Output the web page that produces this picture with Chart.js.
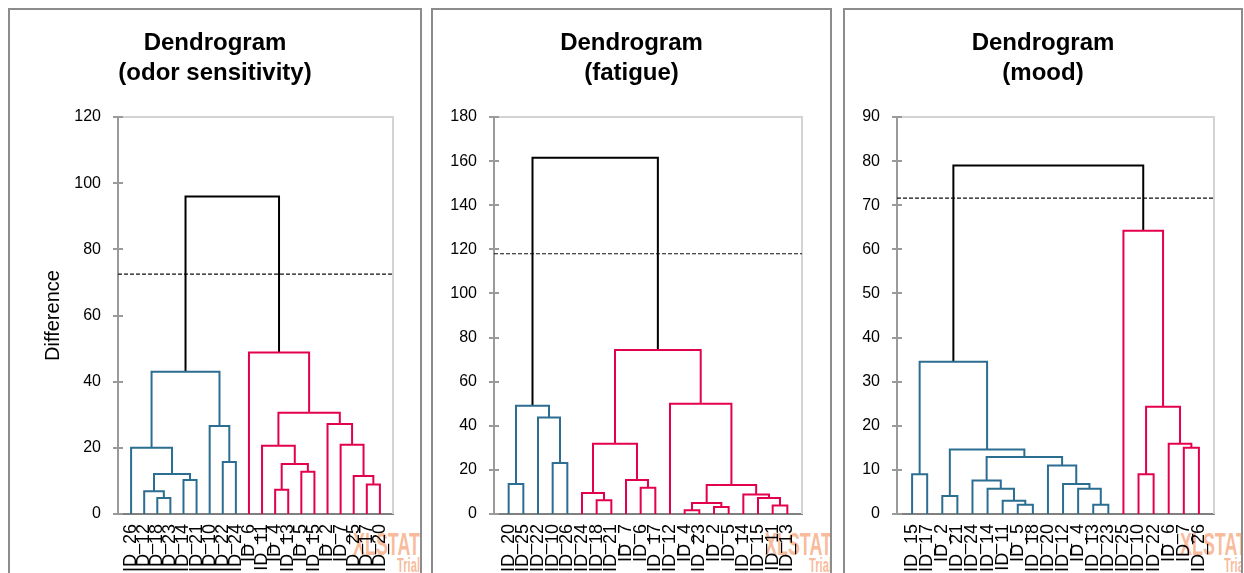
<!DOCTYPE html>
<html>
<head>
<meta charset="utf-8">
<title>Dendrograms</title>
<script src="https://cdn.jsdelivr.net/npm/chart.js@4.4.1/dist/chart.umd.min.js"></script>
<style>
  html, body { margin: 0; padding: 0; background: #fff; overflow: hidden; width: 1244px; height: 573px; }
  .panel { position: absolute; top: 8px; height: 640px; border: 2px solid #8c8c8c; box-sizing: border-box; overflow: hidden; background: #fff; }
  .panel canvas { position: absolute; left: 0; top: 0; z-index: 1; }
  .wm { position: absolute; z-index: 0; font-family: 'Liberation Sans', Arial, sans-serif; font-weight: bold;
        color: rgba(242, 120, 55, 0.5); transform-origin: 0 0; white-space: nowrap; }
  .wm.big { font-size: 32px; line-height: 32px; transform: scaleX(0.56); }
  .wm.small { font-size: 20px; line-height: 20px; transform: scaleX(0.56); }
</style>
</head>
<body>
<div class="panel" style="left:8px;width:414px;">
  <div class="wm big" style="left:343px;top:518px;">XLSTAT</div>
  <div class="wm small" style="left:387px;top:545px;">Trial</div>
  <canvas id="odor" width="410" height="630"></canvas>
</div>
<div class="panel" style="left:431px;width:401px;">
  <div class="wm big" style="left:332px;top:518px;">XLSTAT</div>
  <div class="wm small" style="left:376px;top:545px;">Trial</div>
  <canvas id="fatigue" width="397" height="630"></canvas>
</div>
<div class="panel" style="left:843px;width:400px;">
  <div class="wm big" style="left:335px;top:518px;">XLSTAT</div>
  <div class="wm small" style="left:379px;top:545px;">Trial</div>
  <canvas id="mood" width="396" height="630"></canvas>
</div>
<script>
// Leaf order along the x axis and agglomeration steps for each dendrogram.
// A merge is [childA, childB, height]; an index below the leaf count is a leaf
// (by position), index leafCount + k refers to merge k.
const odorLeaves = ['ID_26','ID_12','ID_18','ID_23','ID_14','ID_21','ID_10','ID_22','ID_24','ID_6',
                    'ID_11','ID_4','ID_13','ID_5','ID_15','ID_2','ID_7','ID_25','ID_17','ID_20'];
const odorMerges = [
  [2, 3, 4.8], [1, 20, 6.9], [11, 12, 7.3], [18, 19, 8.9], [4, 5, 10.3],
  [17, 23, 11.5], [21, 24, 12.1], [13, 14, 12.8], [22, 27, 15.1], [7, 8, 15.7],
  [0, 26, 20.0], [10, 28, 20.6], [16, 25, 20.9], [6, 29, 26.6], [15, 32, 27.2],
  [31, 34, 30.6], [30, 33, 43.0], [9, 35, 48.8], [36, 37, 96.0]
];
const odorCut = 72.5;
const odorYMax = 120, odorYStep = 20;

const fatigueLeaves = ['ID_20','ID_25','ID_22','ID_10','ID_26','ID_24','ID_18','ID_21','ID_7','ID_6',
                       'ID_17','ID_12','ID_4','ID_23','ID_2','ID_5','ID_14','ID_15','ID_11','ID_13'];
const fatigueMerges = [
  [12, 13, 1.7], [14, 15, 3.2], [18, 19, 3.8], [20, 21, 5.0], [6, 7, 6.2],
  [17, 22, 7.3], [16, 25, 8.8], [5, 24, 9.5], [9, 10, 11.9], [23, 26, 13.1],
  [0, 1, 13.6], [8, 28, 15.4], [3, 4, 23.1], [27, 31, 31.9], [2, 32, 43.7],
  [30, 34, 49.1], [11, 29, 50.0], [33, 36, 74.4], [35, 37, 161.5]
];
const fatigueCut = 118;
const fatigueYMax = 180, fatigueYStep = 20;

const moodLeaves = ['ID_15','ID_17','ID_2','ID_21','ID_24','ID_14','ID_11','ID_5','ID_18','ID_20',
                    'ID_12','ID_4','ID_13','ID_23','ID_25','ID_10','ID_22','ID_6','ID_7','ID_26'];
const moodMerges = [
  [7, 8, 2.1], [12, 13, 2.1], [6, 20, 3.0], [2, 3, 4.1], [5, 22, 5.7],
  [11, 21, 5.7], [10, 25, 6.8], [4, 24, 7.6], [0, 1, 9.0], [15, 16, 9.0],
  [9, 26, 11.0], [27, 30, 12.9], [23, 31, 14.6], [18, 19, 15.0], [17, 33, 15.9],
  [29, 34, 24.3], [28, 32, 34.5], [14, 35, 64.2], [36, 37, 79.0]
];
const moodCut = 71.6;
const moodYMax = 90, moodYStep = 10;

const BLUE = '#2c6e91';
const RED = '#e3004f';
const INK = '#000000';
const FONT = "'Liberation Sans', Arial, sans-serif";

// Turn leaves + merges into one "U" shaped line per merge, plus the cut line.
function dendrogramDatasets(leaves, merges, cut) {
  const n = leaves.length;
  const xPos = leaves.map((_, i) => i + 1);
  const hPos = leaves.map(() => 0);
  merges.forEach(([a, b, h]) => { xPos.push((xPos[a] + xPos[b]) / 2); hPos.push(h); });

  const root = n + merges.length - 1;
  const colour = [];
  const paint = (id, c) => {
    colour[id] = c;
    if (id >= n) { paint(merges[id - n][0], c); paint(merges[id - n][1], c); }
  };
  paint(merges[root - n][0], BLUE);
  paint(merges[root - n][1], RED);
  colour[root] = INK;

  const sets = merges.map(([a, b, h], k) => ({
    data: [
      { x: xPos[a], y: hPos[a] }, { x: xPos[a], y: h },
      { x: xPos[b], y: h }, { x: xPos[b], y: hPos[b] }
    ],
    borderColor: colour[n + k],
    borderWidth: 2,
    showLine: true,
    tension: 0,
    pointRadius: 0,
    pointHoverRadius: 0,
    borderJoinStyle: 'miter',
    borderCapStyle: 'butt',
    fill: false
  }));
  sets.push({
    data: [{ x: 0, y: cut }, { x: n + 1, y: cut }],
    borderColor: '#111',
    borderWidth: 1.2,
    borderDash: [4, 2],
    showLine: true,
    pointRadius: 0,
    pointHoverRadius: 0,
    fill: false
  });
  return sets;
}

// Light frame on the top/right of the plot area and tick marks crossing the y axis.
const axisDecor = {
  id: 'axisDecor',
  beforeDatasetsDraw(chart) {
    const { ctx, chartArea: a, scales: { y } } = chart;
    ctx.save();
    ctx.strokeStyle = '#d3d3d3';
    ctx.lineWidth = 2;
    ctx.beginPath();
    ctx.moveTo(a.left, a.top);
    ctx.lineTo(a.right, a.top);
    ctx.lineTo(a.right, a.bottom);
    ctx.stroke();
    ctx.strokeStyle = '#9a9a9a';
    ctx.lineWidth = 2;
    y.ticks.forEach(t => {
      const py = Math.round(y.getPixelForValue(t.value));
      ctx.beginPath();
      ctx.moveTo(a.left - 5, py);
      ctx.lineTo(a.left + 5, py);
      ctx.stroke();
    });
    ctx.restore();
  }
};

function drawPanel(canvasId, o) {
  const n = o.leaves.length;
  return new Chart(document.getElementById(canvasId), {
    type: 'scatter',
    data: { datasets: dendrogramDatasets(o.leaves, o.merges, o.cut) },
    options: {
      responsive: false,
      animation: false,
      devicePixelRatio: 1,
      events: [],
      layout: { padding: 0 },
      plugins: {
        legend: { display: false },
        tooltip: { enabled: false },
        title: {
          display: true,
          text: o.title,
          color: '#000',
          font: { family: FONT, size: 24, weight: 'bold', lineHeight: 1.25 },
          padding: { top: 18.6, bottom: 28.4 }
        }
      },
      scales: {
        x: {
          type: 'linear',
          min: 0,
          max: n + 1,
          afterFit(s) { s.height = 126; s.paddingLeft = 0; s.paddingRight = 0; },
          grid: { display: true, drawOnChartArea: false, drawTicks: false },
          border: { display: true, color: '#808080', width: 2 },
          ticks: {
            stepSize: 1,
            maxTicksLimit: 40,
            autoSkip: false,
            maxRotation: 90,
            minRotation: 90,
            padding: 10,
            color: '#000',
            font: { family: FONT, size: 18 },
            callback: v => o.leaves[v - 1] ?? ''
          }
        },
        y: {
          type: 'linear',
          min: 0,
          max: o.yMax,
          afterFit(s) { s.width = o.yWidth; },
          grid: { display: true, drawOnChartArea: false, drawTicks: false },
          border: { display: true, color: '#9a9a9a', width: 2 },
          ticks: {
            stepSize: o.yStep,
            padding: 17,
            color: '#000',
            font: { family: FONT, size: 16 }
          },
          title: o.yTitle
            ? { display: true, text: o.yTitle, color: '#000', font: { family: FONT, size: 20 }, padding: { top: 31, bottom: 0 } }
            : { display: false }
        },
        yPad: {
          type: 'linear',
          position: 'right',
          display: true,
          afterFit(s) { s.width = o.padRight; },
          grid: { display: false },
          border: { display: false },
          ticks: { display: false }
        }
      }
    },
    plugins: [axisDecor]
  });
}

drawPanel('odor', {
  title: ['Dendrogram', '(odor sensitivity)'],
  leaves: odorLeaves, merges: odorMerges, cut: odorCut,
  yMax: odorYMax, yStep: odorYStep, yTitle: 'Difference',
  yWidth: 108, padRight: 27
});
drawPanel('fatigue', {
  title: ['Dendrogram', '(fatigue)'],
  leaves: fatigueLeaves, merges: fatigueMerges, cut: fatigueCut,
  yMax: fatigueYMax, yStep: fatigueYStep,
  yWidth: 61, padRight: 28
});
drawPanel('mood', {
  title: ['Dendrogram', '(mood)'],
  leaves: moodLeaves, merges: moodMerges, cut: moodCut,
  yMax: moodYMax, yStep: moodYStep,
  yWidth: 52, padRight: 27
});
</script>
</body>
</html>
